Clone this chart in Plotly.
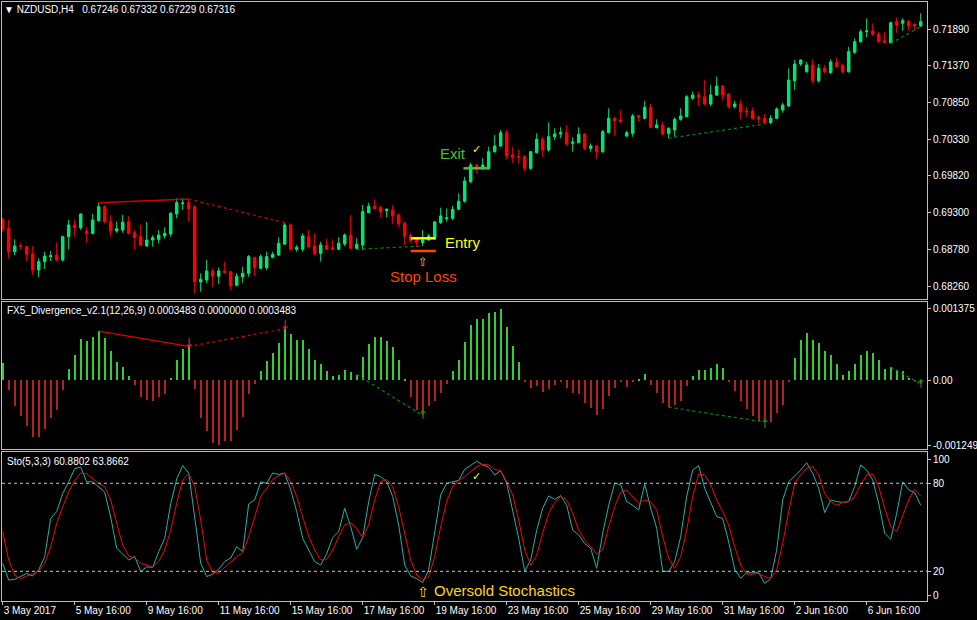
import plotly.graph_objects as go
from plotly.subplots import make_subplots

# NZDUSD H4 bars (one per bar, oldest first)
bar_open = [
    0.69203, 0.69075, 0.68745, 0.68830, 0.68816, 0.68712, 0.68486, 0.68604, 0.68677, 0.68698,
    0.68628, 0.68957, 0.69122, 0.69084, 0.69037, 0.69004, 0.69183, 0.69381, 0.69169, 0.69037,
    0.69051, 0.69169, 0.69013, 0.68957, 0.68825, 0.68910, 0.68920, 0.68967, 0.68995, 0.69278,
    0.69426, 0.69438, 0.69381, 0.68317, 0.68345, 0.68473, 0.68398, 0.68472, 0.68462, 0.68270,
    0.68389, 0.68440, 0.68660, 0.68510, 0.68519, 0.68666, 0.68698, 0.68853, 0.69122, 0.68779,
    0.68779, 0.68957, 0.68825, 0.68722, 0.68835, 0.68802, 0.68779, 0.68853, 0.68980, 0.68793,
    0.68839, 0.69296, 0.69386, 0.69367, 0.69324, 0.69334, 0.69264, 0.69146, 0.68980, 0.68920,
    0.68872, 0.68910, 0.68948, 0.69155, 0.69212, 0.69217, 0.69344, 0.69457, 0.69734, 0.69969,
    0.69923, 0.69923, 0.70157, 0.70238, 0.70426, 0.70111, 0.70087, 0.70087, 0.69923, 0.70143,
    0.70332, 0.70181, 0.70369, 0.70407, 0.70426, 0.70276, 0.70285, 0.70407, 0.70205, 0.70238,
    0.70157, 0.70426, 0.70629, 0.70605, 0.70379, 0.70417, 0.70666, 0.70629, 0.70784, 0.70496,
    0.70534, 0.70417, 0.70464, 0.70615, 0.70652, 0.70912, 0.70958, 0.70934, 0.70831, 0.70958,
    0.71085, 0.70972, 0.70793, 0.70831, 0.70732, 0.70732, 0.70638, 0.70629, 0.70567, 0.70629,
    0.70746, 0.70803, 0.71160, 0.71396, 0.71287, 0.71382, 0.71160, 0.71335, 0.71273, 0.71424,
    0.71378, 0.71287, 0.71561, 0.71711, 0.71852, 0.71862, 0.71816, 0.71725, 0.71697, 0.71993,
    0.71971, 0.71993, 0.71957, 0.71933,
]
bar_high = [
    0.69221, 0.69193, 0.68920, 0.68872, 0.68825, 0.68825, 0.68652, 0.68745, 0.68755, 0.68872,
    0.68967, 0.69193, 0.69203, 0.69285, 0.69090, 0.69278, 0.69438, 0.69405, 0.69264, 0.69169,
    0.69264, 0.69250, 0.69051, 0.69132, 0.69165, 0.68980, 0.69051, 0.69090, 0.69301, 0.69499,
    0.69499, 0.69489, 0.69405, 0.68440, 0.68628, 0.68510, 0.68524, 0.68604, 0.68473, 0.68440,
    0.68533, 0.68698, 0.68675, 0.68708, 0.68745, 0.68745, 0.68948, 0.69155, 0.69146, 0.68839,
    0.69004, 0.69051, 0.69004, 0.68886, 0.68934, 0.68920, 0.68948, 0.69004, 0.69264, 0.68934,
    0.69405, 0.69438, 0.69485, 0.69391, 0.69358, 0.69405, 0.69287, 0.69169, 0.69004, 0.68957,
    0.69051, 0.68995, 0.69183, 0.69367, 0.69358, 0.69391, 0.69570, 0.69804, 0.70002, 0.69983,
    0.70064, 0.70228, 0.70393, 0.70464, 0.70464, 0.70228, 0.70191, 0.70111, 0.70167, 0.70417,
    0.70369, 0.70573, 0.70488, 0.70502, 0.70535, 0.70361, 0.70502, 0.70417, 0.70276, 0.70252,
    0.70464, 0.70770, 0.70652, 0.70746, 0.70454, 0.70690, 0.70676, 0.70878, 0.70831, 0.70615,
    0.70581, 0.70502, 0.70643, 0.70770, 0.70958, 0.71005, 0.71005, 0.71170, 0.71099, 0.71217,
    0.71099, 0.70982, 0.70878, 0.70888, 0.70793, 0.70784, 0.70676, 0.70690, 0.70676, 0.70784,
    0.70849, 0.71335, 0.71453, 0.71462, 0.71429, 0.71462, 0.71396, 0.71382, 0.71462, 0.71491,
    0.71406, 0.71640, 0.71759, 0.71886, 0.72042, 0.71971, 0.71852, 0.71852, 0.71993, 0.72056,
    0.72042, 0.72018, 0.71971, 0.72112,
]
bar_low = [
    0.69023, 0.68652, 0.68698, 0.68779, 0.68604, 0.68415, 0.68383, 0.68500, 0.68614, 0.68604,
    0.68604, 0.68779, 0.68957, 0.69051, 0.68872, 0.68990, 0.69169, 0.69146, 0.68957, 0.69013,
    0.69013, 0.68990, 0.68779, 0.68825, 0.68816, 0.68816, 0.68863, 0.68934, 0.68957, 0.69217,
    0.69334, 0.69169, 0.68157, 0.68180, 0.68298, 0.68251, 0.68288, 0.68440, 0.68204, 0.68255,
    0.68307, 0.68389, 0.68398, 0.68496, 0.68486, 0.68652, 0.68684, 0.68839, 0.68759, 0.68745,
    0.68745, 0.68793, 0.68698, 0.68604, 0.68769, 0.68769, 0.68769, 0.68825, 0.68779, 0.68779,
    0.68769, 0.69287, 0.69344, 0.69231, 0.69231, 0.69136, 0.69090, 0.68839, 0.68872, 0.68807,
    0.68825, 0.68900, 0.68920, 0.69136, 0.69169, 0.69193, 0.69334, 0.69438, 0.69711, 0.69852,
    0.69899, 0.69909, 0.70143, 0.70228, 0.70050, 0.70002, 0.69983, 0.69875, 0.69899, 0.70134,
    0.70087, 0.70157, 0.70323, 0.70347, 0.70238, 0.70157, 0.70276, 0.70181, 0.70157, 0.70054,
    0.70143, 0.70417, 0.70379, 0.70567, 0.70361, 0.70369, 0.70581, 0.70615, 0.70488, 0.70488,
    0.70393, 0.70347, 0.70369, 0.70595, 0.70643, 0.70888, 0.70803, 0.70817, 0.70803, 0.70944,
    0.70878, 0.70770, 0.70770, 0.70615, 0.70652, 0.70605, 0.70558, 0.70548, 0.70548, 0.70615,
    0.70708, 0.70793, 0.71029, 0.71368, 0.71273, 0.71123, 0.71132, 0.71264, 0.71255, 0.71335,
    0.71255, 0.71273, 0.71537, 0.71697, 0.71773, 0.71791, 0.71697, 0.71688, 0.71688, 0.71838,
    0.71866, 0.71866, 0.71866, 0.71923,
]
bar_close = [
    0.69061, 0.68745, 0.68825, 0.68822, 0.68708, 0.68486, 0.68604, 0.68684, 0.68687, 0.68628,
    0.68957, 0.69122, 0.69084, 0.69278, 0.69004, 0.69193, 0.69381, 0.69169, 0.69037, 0.69070,
    0.69160, 0.69004, 0.68943, 0.68839, 0.68910, 0.68943, 0.68980, 0.69004, 0.69287, 0.69438,
    0.69433, 0.69353, 0.68321, 0.68355, 0.68473, 0.68398, 0.68473, 0.68448, 0.68260, 0.68398,
    0.68440, 0.68675, 0.68519, 0.68675, 0.68675, 0.68708, 0.68863, 0.69122, 0.68779, 0.68807,
    0.68967, 0.68816, 0.68722, 0.68839, 0.68779, 0.68779, 0.68863, 0.68980, 0.68793, 0.68849,
    0.69310, 0.69386, 0.69353, 0.69306, 0.69344, 0.69250, 0.69136, 0.68967, 0.68900, 0.68872,
    0.68910, 0.68967, 0.69165, 0.69250, 0.69221, 0.69344, 0.69457, 0.69743, 0.69969, 0.69937,
    0.69969, 0.70157, 0.70238, 0.70426, 0.70096, 0.70078, 0.70078, 0.69923, 0.70157, 0.70332,
    0.70181, 0.70369, 0.70407, 0.70426, 0.70266, 0.70294, 0.70403, 0.70205, 0.70238, 0.70157,
    0.70440, 0.70629, 0.70595, 0.70581, 0.70426, 0.70662, 0.70643, 0.70784, 0.70502, 0.70534,
    0.70407, 0.70488, 0.70615, 0.70662, 0.70934, 0.70958, 0.70926, 0.70831, 0.70958, 0.71085,
    0.70958, 0.70793, 0.70831, 0.70722, 0.70718, 0.70629, 0.70619, 0.70567, 0.70629, 0.70760,
    0.70817, 0.71170, 0.71396, 0.71453, 0.71382, 0.71160, 0.71335, 0.71287, 0.71424, 0.71358,
    0.71287, 0.71570, 0.71711, 0.71852, 0.71862, 0.71816, 0.71711, 0.71697, 0.71979, 0.71947,
    0.72008, 0.71933, 0.71933, 0.71993,
]

# FX5_Divergence histogram
fx5_hist = [
    0.000333, -0.000192, -0.000500, -0.000692, -0.000885, -0.001090, -0.001090, -0.000930, -0.000724, -0.000577,
    -0.000192, 0.000224, 0.000500, 0.000801, 0.000769, 0.000846, 0.000949, 0.000821, 0.000558, 0.000353,
    0.000269, 0.000083, -0.000096, -0.000321, -0.000372, -0.000385, -0.000321, -0.000256, 0.000051, 0.000385,
    0.000609, 0.000654, -0.000160, -0.000718, -0.000975, -0.001205, -0.001249, -0.001173, -0.001173, -0.000962,
    -0.000705, -0.000256, -0.000064, 0.000192, 0.000372, 0.000526, 0.000718, 0.000994, 0.000897, 0.000782,
    0.000782, 0.000609, 0.000397, 0.000321, 0.000192, 0.000096, 0.000115, 0.000205, 0.000160, 0.000115,
    0.000449, 0.000705, 0.000833, 0.000833, 0.000769, 0.000641, 0.000385, 0.000032, -0.000321, -0.000577,
    -0.000673, -0.000500, -0.000385, -0.000244, -0.000064, 0.000179, 0.000397, 0.000737, 0.001077, 0.001186,
    0.001186, 0.001295, 0.001314, 0.001375, 0.001026, 0.000667, 0.000365, -0.000032, -0.000141, -0.000103,
    -0.000218, -0.000167, -0.000083, -0.000038, -0.000154, -0.000244, -0.000256, -0.000430, -0.000532, -0.000660,
    -0.000545, -0.000301, -0.000141, -0.000038, -0.000128, -0.000013, 0.000026, 0.000128, -0.000096, -0.000244,
    -0.000430, -0.000513, -0.000462, -0.000385, -0.000109, 0.000083, 0.000205, 0.000205, 0.000244, 0.000321,
    0.000231, -0.000026, -0.000205, -0.000397, -0.000545, -0.000686, -0.000782, -0.000801, -0.000801, -0.000628,
    -0.000462, -0.000032, 0.000436, 0.000782, 0.000917, 0.000782, 0.000718, 0.000558, 0.000500, 0.000321,
    0.000115, 0.000179, 0.000321, 0.000494, 0.000558, 0.000538, 0.000385, 0.000212, 0.000256, 0.000205,
    0.000173, 0.000051, -0.000032, -0.000064,
]

# Stochastic (5,3,3): main and signal line
sto_main = [
    25.5, 14, 14.5, 16.4, 18.6, 16.8, 21, 30, 56, 60.7,
    73, 81, 90, 91, 81, 81, 77.7, 74, 57, 35.7,
    31.8, 27.7, 30, 20, 23, 22.7, 33.4, 42.5, 66, 83,
    92, 87, 57, 25.5, 16.4, 18, 21.4, 26.6, 29, 36.8,
    33.4, 66, 68.6, 81, 80, 87, 86, 87, 75.5, 60.7,
    42.5, 34.5, 26.6, 24.3, 32, 43, 47, 63, 50.5, 35,
    43, 67.5, 86, 84.5, 81, 71, 51.6, 24.3, 16.8, 15,
    12.3, 21, 46, 72, 80, 81, 82, 89.5, 92, 95,
    92.5, 91, 85.7, 88.6, 80, 61.8, 42.5, 20, 27.7, 48,
    63, 71.4, 69, 71.6, 65, 48, 44.8, 39, 35.7, 22,
    46, 65, 80, 79, 67.5, 65, 61.8, 79.5, 63, 49.3,
    20, 20, 26.6, 43.6, 71, 89, 92, 76.6, 66.4, 57.3,
    56, 40, 21.4, 15.2, 19, 19, 19, 11.8, 15, 34.5,
    68.6, 81, 85, 89, 94, 86.8, 76.6, 60, 68.6, 67.5,
    67, 67.5, 77.7, 92.5, 89, 82.3, 66.4, 46, 41.8, 59.5,
    81, 75.5, 73.6, 65,
]
sto_signal = [
    47, 27.7, 17.5, 15, 16.8, 18, 20.5, 25.5, 36.8, 52.7,
    64, 74, 82, 87, 86.4, 83, 80, 77.7, 68.6, 52.7,
    38, 30.5, 29, 25.5, 24.3, 23, 26.6, 34.5, 48, 66.4,
    82.3, 86.8, 77.7, 55, 27.7, 19, 19, 22.7, 26.6, 30,
    32.7, 43.6, 57, 71, 76.6, 82.7, 85, 87, 81, 71,
    57, 44, 34.5, 27.7, 28, 34.5, 43.6, 51.6, 53, 49.3,
    43, 51.6, 68.6, 81, 82.7, 77.7, 64, 46, 27.7, 17.5,
    14, 16.4, 30, 50.5, 67.5, 78, 82, 84.5, 88, 91.4,
    93, 92.5, 89.5, 88.6, 81, 72, 55, 34.5, 24.3, 31,
    46, 59.5, 66.8, 71, 68.6, 59.5, 48, 41.4, 36.8, 31.8,
    34.5, 50.5, 64, 74, 75.5, 71, 66.4, 68.6, 67.5, 61.8,
    43.6, 29, 22, 30, 48, 71, 86.4, 85.7, 79, 68.6,
    60.7, 51.6, 36.8, 24.3, 18, 18, 18.6, 16.4, 15.2, 21,
    39, 60.7, 80, 85.7, 90.2, 91.4, 85.7, 73, 67.5, 65,
    66.8, 67.5, 71, 79, 85.7, 86.4, 77.7, 63, 50.5, 47,
    58.4, 68.6, 76, 71.4,
]

bars = list(range(len(bar_close)))

# time axis labels (bar number, text)
date_ticks = [0, 12, 24, 36, 48, 60, 72, 84, 96, 108, 120, 132, 144]
date_labels = ["3 May 2017", "5 May 16:00", "9 May 16:00", "11 May 16:00", "15 May 16:00",
               "17 May 16:00", "19 May 16:00", "23 May 16:00", "25 May 16:00", "29 May 16:00",
               "31 May 16:00", "2 Jun 16:00", "6 Jun 16:00"]

price_ticks = [0.71890, 0.71370, 0.70850, 0.70330, 0.69820, 0.69300, 0.68780, 0.68260]
hist_ticks = [0.001375, 0.0, -0.0012493]
hist_labels = ["0.001375", "0.00", "-0.0012493"]

# divergence lines drawn by the indicator (bar numbers and values)
price_bear_solid_x, price_bear_solid_y = [16, 31], [0.69438, 0.69489]
price_bear_dot_x, price_bear_dot_y = [31, 47], [0.69489, 0.69155]
price_bull_dot = [([59, 70], [0.68779, 0.68825]),
                  ([111, 127], [0.70347, 0.70548]),
                  ([148, 153], [0.71688, 0.71923])]
hist_bear_solid_x, hist_bear_solid_y = [16, 31], [0.000949, 0.000654]
hist_bear_dot_x, hist_bear_dot_y = [31, 47], [0.000654, 0.000994]
hist_bull_dot = [([59, 70], [0.000115, -0.000673]),
                 ([111, 127], [-0.000513, -0.000801]),
                 ([148, 153], [0.000256, -0.000064])]
arrow_down_x, arrow_down_y = [31, 47], [0.000695, 0.00105]
arrow_up_x, arrow_up_y = [70, 127, 153], [-0.000683, -0.000856, -0.000087]

# trade levels marked on the chart
exit_x, exit_level = [76.8, 81.2], 0.69923
entry_x, entry_level = [68.0, 72.2], 0.68934
stop_x, stop_level = [68.0, 72.2], 0.68755

GREEN = "#00E676"
RED = "#FF0000"
FRAME = "#C0C0C0"
FONT = "Liberation Sans"

fig = make_subplots(rows=3, cols=1, shared_xaxes=True, vertical_spacing=0.005)

fig.add_trace(go.Candlestick(
    x=bars, open=bar_open, high=bar_high, low=bar_low, close=bar_close,
    increasing=dict(line=dict(color=GREEN, width=1), fillcolor=GREEN),
    decreasing=dict(line=dict(color=RED, width=1), fillcolor=RED),
    hoverinfo="skip"), row=1, col=1)

fig.add_trace(go.Scatter(x=price_bear_solid_x, y=price_bear_solid_y, mode="lines",
                         line=dict(color="#D00000", width=1.5)), row=1, col=1)
fig.add_trace(go.Scatter(x=price_bear_dot_x, y=price_bear_dot_y, mode="lines",
                         line=dict(color="#D00000", width=1.2, dash="dot")), row=1, col=1)
for xs, ys in price_bull_dot:
    fig.add_trace(go.Scatter(x=xs, y=ys, mode="lines",
                             line=dict(color="#008C00", width=1.2, dash="dot")), row=1, col=1)

fig.add_trace(go.Scatter(x=exit_x, y=[exit_level] * 2, mode="lines",
                         line=dict(color="#4DBE3C", width=2.5)), row=1, col=1)
fig.add_trace(go.Scatter(x=entry_x, y=[entry_level] * 2, mode="lines",
                         line=dict(color="#FFFF00", width=2.5)), row=1, col=1)
fig.add_trace(go.Scatter(x=stop_x, y=[stop_level] * 2, mode="lines",
                         line=dict(color="#FF4500", width=2.5)), row=1, col=1)

# histogram
fig.add_trace(go.Bar(x=bars, y=fx5_hist, width=0.38,
                     marker=dict(color=["#32CD32" if v > 0 else "#B22222" for v in fx5_hist],
                                 line=dict(width=0))), row=2, col=1)
fig.add_trace(go.Scatter(x=hist_bear_solid_x, y=hist_bear_solid_y, mode="lines",
                         line=dict(color="#E00000", width=1.3)), row=2, col=1)
fig.add_trace(go.Scatter(x=hist_bear_dot_x, y=hist_bear_dot_y, mode="lines",
                         line=dict(color="#E00000", width=1.2, dash="dot")), row=2, col=1)
for xs, ys in hist_bull_dot:
    fig.add_trace(go.Scatter(x=xs, y=ys, mode="lines",
                             line=dict(color="#008C00", width=1.2, dash="dot")), row=2, col=1)
fig.add_trace(go.Scatter(x=arrow_down_x, y=arrow_down_y, mode="text", text=["↓"] * 2,
                         textfont=dict(color="#FF2020", size=12, family="DejaVu Sans")),
              row=2, col=1)
fig.add_trace(go.Scatter(x=arrow_up_x, y=arrow_up_y, mode="text", text=["↑"] * 3,
                         textfont=dict(color="#00A000", size=12, family="DejaVu Sans")),
              row=2, col=1)

# stochastic
fig.add_trace(go.Scatter(x=bars, y=sto_main, mode="lines",
                         line=dict(color="#20B2AA", width=1)), row=3, col=1)
fig.add_trace(go.Scatter(x=bars, y=sto_signal, mode="lines",
                         line=dict(color="#FF0000", width=1)), row=3, col=1)
for lvl in (80, 20):
    fig.add_hline(y=lvl, line=dict(color="#C8C8C8", width=1, dash="dot"), row=3, col=1)

# text on the chart
ann = [
    dict(x=75.1, y=0.70135, xref="x", yref="y", text="Exit",
         font=dict(color="#46C232", size=15)),
    dict(x=79, y=0.70191, xref="x", yref="y", text="✓",
         font=dict(color="#FFFF00", size=11, family="DejaVu Sans")),
    dict(x=73.3, y=0.68875, xref="x", yref="y", text="Entry", xanchor="left",
         font=dict(color="#FFFF00", size=15)),
    dict(x=70, y=0.68600, xref="x", yref="y", text="⇧",
         font=dict(color="#E8D000", size=12, family="DejaVu Sans")),
    dict(x=70.1, y=0.68390, xref="x", yref="y", text="Stop Loss",
         font=dict(color="#FF4500", size=15)),
    dict(x=79, y=84.5, xref="x3", yref="y3", text="✓",
         font=dict(color="#FFFF00", size=11, family="DejaVu Sans")),
    dict(x=70, y=6.1, xref="x3", yref="y3", text="⇧",
         font=dict(color="#FFD700", size=14, family="DejaVu Sans")),
    dict(x=71.6, y=7.2, xref="x3", yref="y3", text="Oversold Stochastics", xanchor="left",
         font=dict(color="#FFD700", size=15)),
    dict(x=0.0, y=0.9883, xref="paper", yref="paper", xanchor="left",
         text="▼ NZDUSD,H4\u00a0\u00a0 0.67246 0.67332 0.67229 0.67316",
         font=dict(color="#FFFFFF", size=10)),
    dict(x=0.0032, y=0.4858, xref="paper", yref="paper", xanchor="left",
         text="FX5_Divergence_v2.1(12,26,9) 0.0003483 0.0000000 0.0003483",
         font=dict(color="#FFFFFF", size=10)),
    dict(x=0.0032, y=0.2337, xref="paper", yref="paper", xanchor="left",
         text="Sto(5,3,3) 60.8802 63.8662",
         font=dict(color="#FFFFFF", size=10)),
]
for a in ann:
    a.setdefault("showarrow", False)
    a.setdefault("yanchor", "middle")
    a["font"].setdefault("family", FONT)
fig.update_layout(annotations=ann)

fig.update_xaxes(range=[-0.117, 154.05], showgrid=False, zeroline=False,
                 showline=True, mirror=True, linecolor=FRAME, linewidth=1,
                 rangeslider_visible=False, showticklabels=False, ticks="",
                 automargin=False)
fig.update_xaxes(row=3, col=1, showticklabels=True, tickmode="array",
                 tickvals=date_ticks, ticktext=date_labels, ticks="outside",
                 ticklen=3, tickcolor=FRAME, ticklabelposition="outside right")

axis_common = dict(showgrid=False, zeroline=False, showline=True, mirror=True,
                   linecolor=FRAME, linewidth=1, side="right", ticks="outside",
                   ticklen=3, tickcolor=FRAME, tickmode="array", automargin=False)
fig.update_yaxes(row=1, col=1, range=[0.68077, 0.72272], tickvals=price_ticks,
                 ticktext=["%.5f" % v for v in price_ticks], domain=[0.5042, 1.0], **axis_common)
fig.update_yaxes(row=2, col=1, range=[-0.001318, 0.00151], tickvals=hist_ticks,
                 ticktext=hist_labels, domain=[0.2538, 0.4992], **axis_common)
fig.update_yaxes(row=3, col=1, range=[-0.25, 101.3], tickvals=[96.4, 80, 20, 3.6],
                 ticktext=["100", "80", "20", "0"], domain=[0.0, 0.2487], **axis_common)

fig.update_layout(
    width=977, height=620,
    margin=dict(l=2, r=50, t=2, b=19, autoexpand=False),
    paper_bgcolor="#000000", plot_bgcolor="#000000",
    font=dict(family=FONT, size=10, color="#FFFFFF"),
    showlegend=False, boxgap=0.4, hovermode=False, bargap=0,
)

# page has default 8px body margin; remove it so the chart sits at the window corner
fig.write_html("out.html", config={"displayModeBar": False},
               post_script="document.body.style.margin='0';"
                           "document.body.style.background='#000';")
